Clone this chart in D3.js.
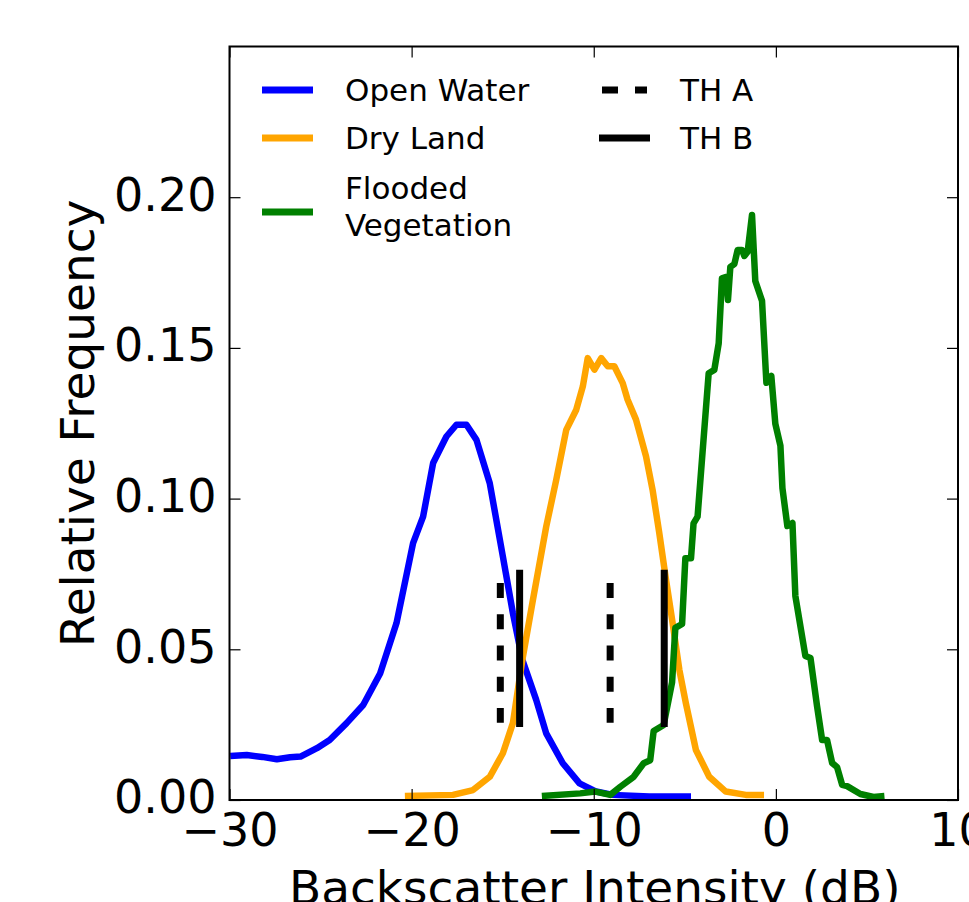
<!DOCTYPE html>
<html>
<head>
<meta charset="utf-8">
<script src="https://cdn.jsdelivr.net/npm/d3@7"></script>
<style>
  html, body { margin: 0; padding: 0; background: #fff; }
  svg { display: block; font-family: 'DejaVu Sans', sans-serif; }
</style>
</head>
<body>
<div id="dataviz_backscatter"></div>
<script>

// ━━━━━━━━━━━━━━━━━━━━━━━━━━━━━━━━━━━━━━━━━━━━━━━━━━━━━━━━━━━━━━━━━━━━━━━━━━━━━━
// Datos ///////////////////////////////////////////////////
// ━━━━━━━━━━━━━━━━━━━━━━━━━━━━━━━━━━━━━━━━━━━━━━━━━━━━━━━━━━━━━━━━━━━━━━━━━━━━━━

// [dB, frecuencia relativa]
const open_water = [
  [-29.96, 0.0146], [-29.05, 0.0149], [-28.2, 0.0143], [-27.4, 0.0135], [-26.67, 0.0142],
  [-26.1, 0.0144], [-25.2, 0.0172], [-24.5, 0.0199], [-23.57, 0.0255], [-22.66, 0.0315],
  [-21.73, 0.042], [-20.83, 0.0587], [-19.92, 0.0852], [-19.37, 0.094], [-18.82, 0.1118],
  [-18.09, 0.1206], [-17.54, 0.1245], [-16.99, 0.1245], [-16.44, 0.1195], [-15.71, 0.1051],
  [-14.99, 0.0808], [-14.44, 0.062], [-13.92, 0.0465], [-13.16, 0.0332], [-12.61, 0.0221],
  [-11.7, 0.0122], [-10.78, 0.0055], [-9.87, 0.0028], [-8.96, 0.0017], [-6.95, 0.0012],
  [-4.66, 0.0012]
];

const dry_land = [
  [-20.37, 0.0013], [-17.73, 0.0017], [-16.63, 0.0033], [-15.71, 0.0077], [-14.99, 0.0155],
  [-14.44, 0.0255], [-13.92, 0.0465], [-13.34, 0.0664], [-12.61, 0.0907], [-12.06, 0.1062],
  [-11.51, 0.1228], [-10.96, 0.1295], [-10.6, 0.1372], [-10.33, 0.1466], [-9.96, 0.1428],
  [-9.59, 0.1466], [-9.23, 0.1439], [-8.87, 0.1439], [-8.41, 0.1383], [-8.14, 0.1328],
  [-7.68, 0.1262], [-7.13, 0.114], [-6.77, 0.1029], [-6.4, 0.0885], [-6.03, 0.073],
  [-5.67, 0.0587], [-5.3, 0.0432], [-4.94, 0.0321], [-4.39, 0.0166], [-3.66, 0.0077],
  [-2.75, 0.0028], [-1.65, 0.0017], [-0.65, 0.0017]
];

const flooded_vegetation = [
  [-12.85, 0.0013], [-10.74, 0.0022], [-9.92, 0.0028], [-9.09, 0.0017], [-8.54, 0.0044],
  [-7.81, 0.0077], [-7.26, 0.0122], [-6.90, 0.0132], [-6.71, 0.0229], [-6.16, 0.0249],
  [-5.70, 0.0390], [-5.52, 0.0571], [-5.15, 0.0584], [-4.97, 0.0802], [-4.66, 0.0802],
  [-4.52, 0.0918], [-4.30, 0.0940], [-3.69, 0.1416], [-3.38, 0.1427], [-3.14, 0.1515],
  [-2.96, 0.1731], [-2.72, 0.1736], [-2.63, 0.1659], [-2.50, 0.1769], [-2.28, 0.1778],
  [-2.10, 0.1825], [-1.86, 0.1825], [-1.73, 0.1805], [-1.55, 0.1819], [-1.31, 0.1941],
  [-1.13, 0.1722], [-0.76, 0.1656], [-0.52, 0.1384], [-0.25, 0.1407], [-0.03, 0.1248],
  [0.25, 0.1175], [0.36, 0.1035], [0.63, 0.0909], [0.91, 0.0919], [1.07, 0.0677],
  [1.62, 0.0478], [1.90, 0.0471], [2.26, 0.0312], [2.54, 0.0199], [2.81, 0.0199],
  [3.09, 0.0123], [3.36, 0.0109], [3.64, 0.0050], [3.91, 0.0046], [4.64, 0.0020],
  [5.36, 0.0010], [5.96, 0.0013]
];

// umbrales: x, y desde, y hasta
const th_a = [[-15.13, 0.0256, 0.072], [-9.10, 0.0256, 0.072]];
const th_b = [[-14.07, 0.0242, 0.0764], [-6.13, 0.0242, 0.0764]];

const x_ticks = [-30, -20, -10, 0, 10];
const y_ticks = [0, 0.05, 0.10, 0.15, 0.20];

const series_names = ['Open Water', 'Dry Land', 'Flooded\nVegetation'];
const series_colors = ['#0000ff', '#ffa500', '#008000'];
const th_names = ['TH A', 'TH B'];

// ━━━━━━━━━━━━━━━━━━━━━━━━━━━━━━━━━━━━━━━━━━━━━━━━━━━━━━━━━━━━━━━━━━━━━━━━━━━━━━
// SVG setup ////////////////////////////////////////////////////////////////////
// ━━━━━━━━━━━━━━━━━━━━━━━━━━━━━━━━━━━━━━━━━━━━━━━━━━━━━━━━━━━━━━━━━━━━━━━━━━━━━━

const width = 969, height = 902;
const margin = { top: 46.5, right: 11, bottom: 102, left: 229.5 };

const svg = d3.select('#dataviz_backscatter').append('svg')
  .attr('width', width)
  .attr('height', height)
  .attr('viewBox', [0, 0, width, height]);

const x = d3.scaleLinear().domain([-30, 10]).range([margin.left, width - margin.right]);
const y = d3.scaleLinear().domain([0, 0.25]).range([height - margin.bottom, margin.top]);

const tick_font = 46;
const title_font = 47;
const tick_len = 11;

const   curves = svg.append('g').attr('id', 'curves');
const  umbrals = svg.append('g').attr('id', 'umbrales');
const     axes = svg.append('g').attr('id', 'axes');
const   legend = svg.append('g').attr('id', 'legend');

// ━━━━━━━━━━━━━━━━━━━━━━━━━━━━━━━━━━━━━━━━━━━━━━━━━━━━━━━━━━━━━━━━━━━━━━━━━━━━━━
// Curvas ///////////////////////////////////////////////////////////////////////
// ━━━━━━━━━━━━━━━━━━━━━━━━━━━━━━━━━━━━━━━━━━━━━━━━━━━━━━━━━━━━━━━━━━━━━━━━━━━━━━

const line = d3.line().x(d => x(d[0])).y(d => y(d[1]));

curves.selectAll('path')
  .data([open_water, dry_land, flooded_vegetation])
  .join('path')
  .attr('d', line)
  .attr('fill', 'none')
  .attr('stroke', (d, i) => series_colors[i])
  .attr('stroke-width', 6.5)
  .attr('stroke-linejoin', 'round');

// Umbrales
umbrals.selectAll('line.tha')
  .data(th_a)
  .join('line')
  .attr('class', 'tha')
  .attr('x1', d => x(d[0])).attr('x2', d => x(d[0]))
  .attr('y1', d => y(d[2])).attr('y2', d => y(d[1]))
  .attr('stroke', '#000')
  .attr('stroke-width', 7)
  .attr('stroke-dasharray', '15 16.25');

umbrals.selectAll('line.thb')
  .data(th_b)
  .join('line')
  .attr('class', 'thb')
  .attr('x1', d => x(d[0])).attr('x2', d => x(d[0]))
  .attr('y1', d => y(d[2])).attr('y2', d => y(d[1]))
  .attr('stroke', '#000')
  .attr('stroke-width', 7);

// ━━━━━━━━━━━━━━━━━━━━━━━━━━━━━━━━━━━━━━━━━━━━━━━━━━━━━━━━━━━━━━━━━━━━━━━━━━━━━━
// Ejes /////////////////////////////////////////////////////////////////////////
// ━━━━━━━━━━━━━━━━━━━━━━━━━━━━━━━━━━━━━━━━━━━━━━━━━━━━━━━━━━━━━━━━━━━━━━━━━━━━━━

const [x0, x1] = x.range();
const [y0, y1] = y.range();

// ticks hacia adentro, en los cuatro lados
const axis_bottom = d3.axisBottom(x).tickValues(x_ticks).tickSize(-tick_len);
const axis_top    = d3.axisTop(x).tickValues(x_ticks).tickSize(-tick_len).tickFormat('');
const axis_left   = d3.axisLeft(y).tickValues(y_ticks).tickSize(-tick_len).tickPadding(13).tickFormat(d3.format('.2f'));
const axis_right  = d3.axisRight(y).tickValues(y_ticks).tickSize(-tick_len).tickFormat('');

const gb = axes.append('g').attr('transform', `translate(0,${y0})`).call(axis_bottom);
const gt = axes.append('g').attr('transform', `translate(0,${y1})`).call(axis_top);
const gl = axes.append('g').attr('transform', `translate(${x0},0)`).call(axis_left);
const gr = axes.append('g').attr('transform', `translate(${x1},0)`).call(axis_right);

[gb, gt, gl, gr].forEach(g => {
  g.select('.domain').remove();
  g.selectAll('.tick line').attr('stroke', '#000').attr('stroke-width', 1.2);
  g.selectAll('.tick text')
    .attr('font-family', 'DejaVu Sans')
    .attr('font-size', tick_font)
    .attr('fill', '#000');
});

gb.selectAll('.tick text').attr('dy', null).attr('y', 46);
gl.selectAll('.tick text').attr('dy', '0.28em');

// marco
axes.append('rect')
  .attr('x', x0).attr('y', y1)
  .attr('width', x1 - x0).attr('height', y0 - y1)
  .attr('fill', 'none')
  .attr('stroke', '#000')
  .attr('stroke-width', 2);

// títulos de ejes
axes.append('text')
  .attr('x', (x0 + x1) / 2 + 1)
  .attr('y', 904)
  .attr('text-anchor', 'middle')
  .attr('font-size', title_font)
  .attr('fill', '#000')
  .text('Backscatter Intensity (dB)');

axes.append('text')
  .attr('transform', `translate(94,${(y0 + y1) / 2}) rotate(-90)`)
  .attr('text-anchor', 'middle')
  .attr('font-size', title_font)
  .attr('fill', '#000')
  .text('Relative Frequency');

// ━━━━━━━━━━━━━━━━━━━━━━━━━━━━━━━━━━━━━━━━━━━━━━━━━━━━━━━━━━━━━━━━━━━━━━━━━━━━━━
// Leyenda //////////////////////////////////////////////////////////////////////
// ━━━━━━━━━━━━━━━━━━━━━━━━━━━━━━━━━━━━━━━━━━━━━━━━━━━━━━━━━━━━━━━━━━━━━━━━━━━━━━

const legend_font = 31;
const legend_rows = [90, 138, 212];

const left_items = legend.selectAll('g.serie')
  .data(series_names)
  .join('g')
  .attr('class', 'serie')
  .attr('transform', (d, i) => `translate(262,${legend_rows[i]})`);

left_items.append('line')
  .attr('x1', 0).attr('x2', 51)
  .attr('stroke', (d, i) => series_colors[i])
  .attr('stroke-width', 7);

left_items.append('text')
  .attr('x', 83)
  .attr('font-size', legend_font)
  .attr('fill', '#000')
  .each(function (d) {
    const lines = d.split('\n');
    const t = d3.select(this);
    const shift = lines.length > 1 ? -5 : 0;
    lines.forEach((s, k) => {
      t.append('tspan')
        .attr('x', 83)
        .attr('y', (k - (lines.length - 1) / 2) * 37 + shift)
        .attr('dy', '0.35em')
        .text(s);
    });
  });

const right_items = legend.selectAll('g.th')
  .data(th_names)
  .join('g')
  .attr('class', 'th')
  .attr('transform', (d, i) => `translate(0,${legend_rows[i]})`);

right_items.append('line')
  .attr('x1', (d, i) => i === 0 ? 602 : 599)
  .attr('x2', (d, i) => i === 0 ? 647 : 650)
  .attr('stroke', '#000')
  .attr('stroke-width', 7)
  .attr('stroke-dasharray', (d, i) => i === 0 ? '16 17' : null);

right_items.append('text')
  .attr('x', 680)
  .attr('dy', '0.35em')
  .attr('font-size', legend_font)
  .attr('fill', '#000')
  .text(d => d);

</script>
</body>
</html>
